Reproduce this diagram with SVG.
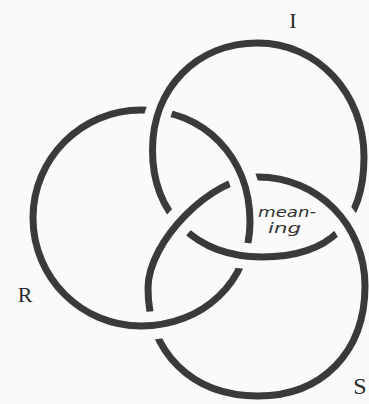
<svg xmlns="http://www.w3.org/2000/svg" width="369" height="404" viewBox="0 0 369 404">
<style>
.ring{fill:none;stroke:#3a3a3a;stroke-width:7}
.lbl{font-family:"Liberation Serif","Times New Roman",serif;font-size:22px;fill:#2a2a2a;text-anchor:middle}
.hand{font-family:"DejaVu Sans",sans-serif;font-style:italic;font-size:14px;fill:#333}
.cut{fill:none;stroke:#000}
</style>
<defs>
<path id="pI" d="M258,43 C317.4,43 364,93.2 364,157 C364,223 329.3,257 262,257 C196.3,257 152.5,214.2 152.5,150 C152.5,87.9 196.8,43 258,43 Z"/>
<path id="pR" d="M141,110 C204.2,110 250,157 250,222 C250,281.3 203.1,326 141,326 C81.4,326 33,277.6 33,218 C33,158.4 81.4,110 141,110 Z"/>
<path id="pS" d="M258,177 C317.9,177 365,225 365,286 C365,352 322.2,396 258,396 C192,396 148,352.8 148,288 C148,241.4 211.8,177 258,177 Z"/>
<mask id="mR" maskUnits="userSpaceOnUse" x="0" y="0" width="369" height="404">
<rect width="369" height="404" fill="#fff"/>
<use href="#pI" class="cut" stroke-width="26"/>
</mask>
<mask id="mS" maskUnits="userSpaceOnUse" x="0" y="0" width="369" height="404">
<rect width="369" height="404" fill="#fff"/>
<use href="#pR" class="cut" stroke-width="28"/>
</mask>
<mask id="mI" maskUnits="userSpaceOnUse" x="0" y="0" width="369" height="404">
<rect width="369" height="404" fill="#fff"/>
<use href="#pS" class="cut" stroke-width="28"/>
</mask>
</defs>
<rect width="369" height="404" fill="#fafafa"/>
<g id="ring-I"><use href="#pI" class="ring" mask="url(#mI)"/></g>
<g id="ring-R"><use href="#pR" class="ring" mask="url(#mR)"/></g>
<g id="ring-S"><use href="#pS" class="ring" mask="url(#mS)"/></g>
<g id="label-I"><text class="lbl" x="293" y="28">I</text></g>
<g id="label-R"><text class="lbl" x="25" y="302">R</text></g>
<g id="label-S"><text class="lbl" x="360" y="394" style="font-size:24px">S</text></g>
<g id="note-meaning">
<text class="hand" x="258" y="217" textLength="58" lengthAdjust="spacingAndGlyphs">mean-</text>
<text class="hand" x="268" y="233" textLength="33" lengthAdjust="spacingAndGlyphs">ing</text>
</g>
</svg>
